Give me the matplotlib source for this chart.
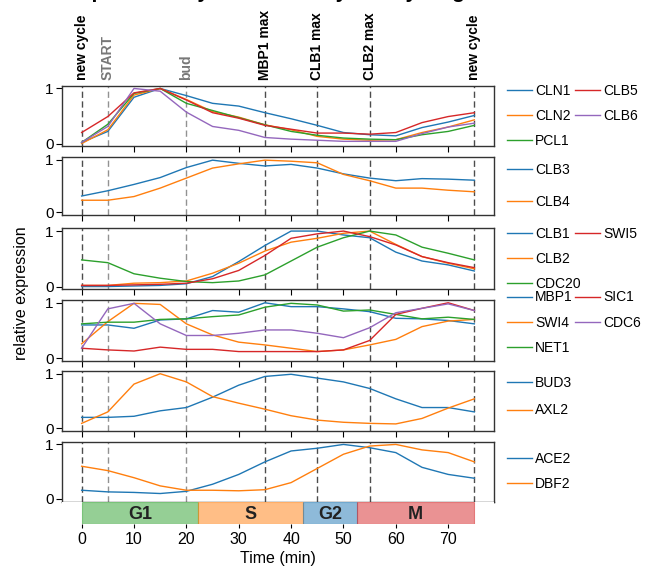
import matplotlib
matplotlib.use("Agg")
import matplotlib.pyplot as plt
from matplotlib.lines import Line2D

plt.rcParams['font.family'] = ['Liberation Sans', 'DejaVu Sans']

# Время (мин)
time = [0, 5, 10, 15, 20, 25, 30, 35, 40, 45, 50, 55, 60, 65, 70, 75]

# Панель 1
cln1 = [0.02, 0.22, 0.84, 1.00, 0.87, 0.73, 0.68, 0.56, 0.45, 0.33, 0.20, 0.16, 0.14, 0.29, 0.39, 0.51]
cln2 = [0.00, 0.25, 0.88, 1.00, 0.80, 0.58, 0.48, 0.34, 0.25, 0.13, 0.08, 0.06, 0.07, 0.20, 0.30, 0.43]
pcl1 = [0.02, 0.35, 0.91, 1.00, 0.73, 0.60, 0.47, 0.34, 0.22, 0.15, 0.10, 0.08, 0.07, 0.16, 0.22, 0.33]
clb5 = [0.20, 0.49, 0.92, 1.00, 0.79, 0.56, 0.46, 0.33, 0.26, 0.19, 0.19, 0.17, 0.20, 0.38, 0.49, 0.56]
clb6 = [0.02, 0.31, 1.00, 0.95, 0.57, 0.31, 0.24, 0.11, 0.08, 0.06, 0.04, 0.04, 0.04, 0.18, 0.30, 0.37]

# Панель 2
clb3 = [0.31, 0.41, 0.53, 0.66, 0.85, 0.99, 0.93, 0.88, 0.91, 0.84, 0.73, 0.65, 0.60, 0.64, 0.63, 0.61]
clb4 = [0.23, 0.23, 0.30, 0.46, 0.65, 0.84, 0.92, 0.99, 0.97, 0.94, 0.72, 0.60, 0.46, 0.46, 0.42, 0.39]

# Панель 3
clb1 = [0.00, 0.00, 0.01, 0.02, 0.05, 0.18, 0.45, 0.74, 1.00, 1.00, 0.93, 0.88, 0.62, 0.46, 0.39, 0.28]
clb2 = [0.02, 0.02, 0.06, 0.07, 0.10, 0.24, 0.42, 0.64, 0.80, 0.87, 0.96, 1.00, 0.76, 0.54, 0.42, 0.32]
cdc20 = [0.48, 0.43, 0.23, 0.15, 0.09, 0.07, 0.10, 0.21, 0.46, 0.71, 0.88, 1.00, 0.93, 0.71, 0.60, 0.48]
swi5 = [0.02, 0.02, 0.03, 0.04, 0.06, 0.14, 0.29, 0.56, 0.87, 0.95, 1.00, 0.90, 0.75, 0.54, 0.43, 0.34]

# Панель 4
mbp1 = [0.60, 0.60, 0.54, 0.69, 0.71, 0.86, 0.83, 1.00, 0.93, 0.93, 0.89, 0.84, 0.72, 0.71, 0.68, 0.62]
swi4 = [0.26, 0.66, 0.99, 0.97, 0.62, 0.42, 0.29, 0.24, 0.18, 0.12, 0.15, 0.24, 0.34, 0.57, 0.67, 0.70]
net1 = [0.62, 0.65, 0.65, 0.70, 0.71, 0.75, 0.78, 0.92, 0.99, 0.96, 0.85, 0.87, 0.79, 0.71, 0.74, 0.70]
sic1 = [0.18, 0.15, 0.13, 0.20, 0.16, 0.16, 0.12, 0.12, 0.12, 0.12, 0.15, 0.32, 0.79, 0.90, 1.00, 0.86]
cdc6 = [0.18, 0.89, 0.99, 0.62, 0.41, 0.41, 0.45, 0.51, 0.51, 0.45, 0.37, 0.55, 0.82, 0.90, 0.98, 0.86]

# Панель 5
bud3 = [0.20, 0.20, 0.22, 0.32, 0.38, 0.57, 0.79, 0.95, 0.99, 0.92, 0.85, 0.73, 0.54, 0.38, 0.38, 0.30]
axl2 = [0.09, 0.30, 0.81, 1.00, 0.85, 0.58, 0.46, 0.35, 0.23, 0.15, 0.11, 0.09, 0.08, 0.18, 0.37, 0.54]

# Панель 6
ace2 = [0.16, 0.13, 0.12, 0.10, 0.14, 0.27, 0.45, 0.68, 0.88, 0.93, 1.00, 0.94, 0.85, 0.58, 0.45, 0.38]
dbf2 = [0.60, 0.52, 0.39, 0.24, 0.16, 0.16, 0.15, 0.17, 0.30, 0.56, 0.82, 0.97, 1.00, 0.90, 0.85, 0.68]

panels = [
    [("CLN1", cln1), ("CLN2", cln2), ("PCL1", pcl1), ("CLB5", clb5), ("CLB6", clb6)],
    [("CLB3", clb3), ("CLB4", clb4)],
    [("CLB1", clb1), ("CLB2", clb2), ("CDC20", cdc20), ("SWI5", swi5)],
    [("MBP1", mbp1), ("SWI4", swi4), ("NET1", net1), ("SIC1", sic1), ("CDC6", cdc6)],
    [("BUD3", bud3), ("AXL2", axl2)],
    [("ACE2", ace2), ("DBF2", dbf2)],
]

# События клеточного цикла
event_times = [0, 5, 20, 35, 45, 55, 75]
event_labels = ["new cycle", "START", "bud", "MBP1 max", "CLB1 max", "CLB2 max", "new cycle"]
event_colors = ["black", "#777777", "#777777", "black", "black", "black", "black"]

# Фазы
phase_names = ["G1", "S", "G2", "M"]
phase_starts = [0, 22.3, 42.3, 52.5]
phase_ends = [22.3, 42.3, 52.5, 75]
phase_colors = ["tab:green", "tab:orange", "tab:blue", "tab:red"]

W, H = 657, 569
fig = plt.figure(figsize=(W / 100, H / 100), dpi=100)

left = 62 / W
width = (494 - 62) / W
tops = [85.7, 157, 228.3, 300, 371, 441.7]
bottoms = [146.3, 215, 289.3, 361, 431, 501.7]
xlim = (-3.75, 78.75)

# расстояние между строками легенды и её вертикальный центр
leg_spacing = [0.8, 1.25, 0.8, 0.8, 0.95, 0.8]
leg_center = [0.5, 0.5, 0.5, 0.63, 0.57, 0.5]
col2_x = (562 - 62) / (494 - 62)

axes = []
for i, series in enumerate(panels):
    ax = fig.add_axes([left, 1 - bottoms[i] / H, width, (bottoms[i] - tops[i]) / H])
    handles = []
    for name, vals in series:
        h, = ax.plot(time, vals, lw=1, label=name)
        handles.append(h)
    for t, c in zip(event_times, event_colors):
        ax.axvline(t, color=c, alpha=0.7 if c == "black" else 0.8, lw=1, linestyle=(0, (4.5, 2.5)), zorder=0)
    ax.set_xlim(xlim)
    ax.set_ylim(-0.05, 1.05)
    ax.set_yticks([0, 1])
    ax.set_xticks(range(0, 80, 10))
    ax.tick_params(axis="x", labelbottom=False, length=4)
    ax.tick_params(axis="y", labelsize=11, length=4, pad=2)
    for s in ax.spines.values():
        s.set_linewidth(1)
        s.set_color("0.2")

    # легенда: первый столбец до трёх строк, второй - отдельно
    col1 = handles[:3]
    leg_kw = dict(frameon=False, fontsize=10, handlelength=1.8, handletextpad=0.25,
                  labelspacing=leg_spacing[i], borderaxespad=0.5, borderpad=0.4)
    leg1 = ax.legend(handles=col1, loc="center left", bbox_to_anchor=(1.0, leg_center[i]), **leg_kw)
    if len(handles) > 3:
        col2 = handles[3:]
        while len(col2) < 3:
            col2.append(Line2D([], [], alpha=0, label=" "))
        ax.add_artist(leg1)
        ax.legend(handles=col2, loc="center left", bbox_to_anchor=(col2_x, leg_center[i]), **leg_kw)
    axes.append(ax)

# подписи событий сверху
for t, lab, c in zip(event_times, event_labels, event_colors):
    axes[0].text(t, 1.09, lab, transform=axes[0].get_xaxis_transform(), rotation=90,
                 ha="center", va="bottom", fontsize=10, fontweight="bold", color=c)

# полоса фаз
pax = fig.add_axes([left, 1 - 523.7 / H, width, (523.7 - 502.3) / H])
for name, s, e, c in zip(phase_names, phase_starts, phase_ends, phase_colors):
    pax.barh(0.5, e - s, left=s, height=1, color=c, alpha=0.5, edgecolor=c, lw=0.8)
    pax.text((s + e) / 2, 0.45, name, ha="center", va="center", fontsize=13,
             fontweight="bold", color="#222222")
pax.set_xlim(xlim)
pax.set_ylim(0, 1)
pax.set_yticks([])
pax.set_xticks(range(0, 80, 10))
pax.tick_params(axis="x", labelsize=11.5, length=3, pad=3)
for s in pax.spines.values():
    s.set_visible(False)
pax.set_xlabel("Time (min)", fontsize=11.5, labelpad=3)

fig.text(22 / W, 1 - 293 / H, "relative expression", rotation=90, ha="center", va="center",
         fontsize=11.5)

# заголовок (обрезан сверху, как в оригинале)
fig.text(289 / W, 1 + 2.5 / H, "Expression dynamics of key cell cycle genes", ha="center",
         va="baseline", fontsize=15, fontweight="bold")

fig.savefig("out.png", dpi=100)
